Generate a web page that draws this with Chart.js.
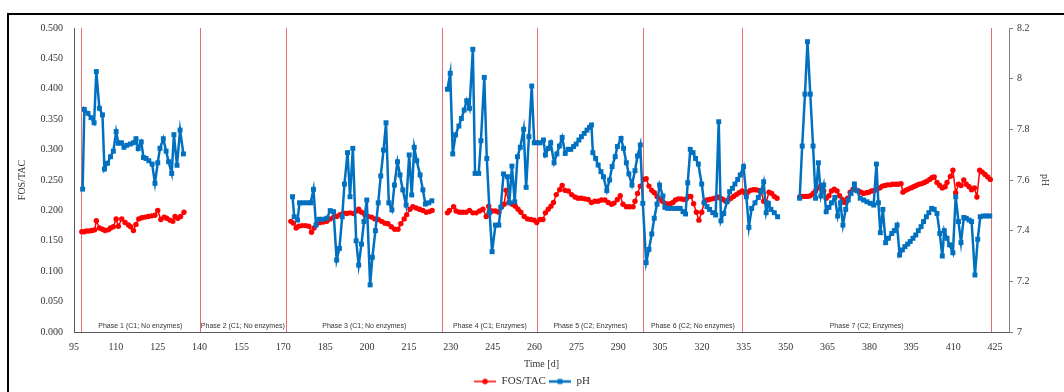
<!DOCTYPE html>
<html>
<head>
<meta charset="utf-8">
<script src="https://cdn.jsdelivr.net/npm/chart.js@4"></script>
<style>
  html, body { margin: 0; padding: 0; background: #fff; }
  #wrap { position: relative; width: 1064px; height: 392px; overflow: hidden; }
  #frame { position: absolute; left: 7px; top: 13px; width: 1100px; height: 400px;
           border-top: 2px solid #000; border-left: 2px solid #000; pointer-events: none; }
</style>
</head>
<body>
<div id="wrap">
  <canvas id="chart" width="1064" height="392"></canvas>
  <div id="frame"></div>
</div>
<script>
// FOS/TAC (left axis) - null marks a break between phases
const fosDays = [
    97.8, 98.6, 99.5, 100.5, 101.5, 102.4, 103.0, 104.1, 105.2, 106.1, 107.3, 108.1, 109.1, 110.1, 110.9,
    112.1, 113.3, 114.5, 115.3, 116.3, 117.2, 118.2, 119.3, 120.5, 121.6, 122.8, 124.0, 125.0, 126.1,
    127.3, 128.2, 129.4, 130.4, 131.2, 132.2, 133.2, 134.4,
    150,
    172.7, 173.6, 174.6, 175.5, 176.7, 177.9, 179.1, 180.1, 181.0, 182.0, 183.2, 184.4, 185.6, 186.8,
    188.0, 189.1, 190.3, 191.5, 192.7, 193.9, 195.1, 196.3, 197.0, 198.0, 199.2, 200.4, 201.6, 202.8,
    204.0, 205.2, 206.4, 207.5, 208.7, 209.9, 211.1, 212.1, 213.3, 214.2, 215.4, 216.4, 217.6, 218.8,
    220.0, 221.2, 222.4, 223.3,
    226,
    228.8, 229.5, 231.0, 231.9, 233.1, 234.3, 235.5, 236.7, 237.9, 239.1, 240.3, 241.5, 242.7, 243.6,
    244.8, 246.0, 247.2, 248.2, 249.1, 249.8, 250.8, 252.0, 253.1, 254.1, 255.1, 256.3, 257.5, 258.7,
    259.9, 260.8, 262.0, 263.0, 263.9, 264.9, 265.9, 266.8, 267.8, 269.0, 269.9, 270.9, 272.1, 273.3,
    274.5, 275.6, 276.8, 278.0, 279.2, 280.4, 281.6, 282.8, 284.0, 285.2, 286.4, 287.6, 288.5, 289.7,
    290.7, 291.7, 292.9, 294.0, 295.3, 296.0, 296.9, 297.9, 299.1, 300.0, 301.0, 302.0, 302.9, 303.9,
    304.8, 305.8, 306.7, 307.7, 308.6, 309.6, 310.5, 311.5, 312.5, 313.4, 314.4, 315.3, 316.0, 317.0,
    318.0, 318.9, 319.9, 320.8, 321.8, 322.7, 323.7, 324.6, 325.6, 326.6, 327.5, 328.5, 329.4, 330.4,
    331.3, 332.3, 333.3, 334.4, 335.4, 336.4, 337.3, 338.3, 339.2, 340.2, 341.1, 342.1, 343.0, 344.0,
    345.0, 345.9, 346.9,
    351,
    355.0, 355.9, 356.9, 357.8, 358.8, 359.8, 360.7, 361.7, 362.6, 363.6, 364.5, 365.5, 366.4, 367.4,
    368.4, 369.3, 370.3, 371.2, 372.2, 373.1, 374.1, 375.1, 376.0, 377.0, 377.9, 378.9, 379.8, 380.8,
    381.7, 382.7, 383.7, 384.6, 385.6, 386.5, 387.5, 388.4, 389.4, 390.3, 391.3, 392.0, 393.0, 393.9,
    394.9, 395.8, 396.8, 397.7, 398.7, 399.7, 400.6, 401.6, 402.5, 403.2, 404.2, 405.2, 406.1, 407.1,
    407.8, 409.0, 409.9, 410.9, 411.9, 412.8, 413.8, 414.7, 415.7, 416.6, 417.6, 418.5, 419.5, 420.4,
    421.4, 422.4, 423.3
];
const fosValues = [
    0.165, 0.165, 0.166, 0.166, 0.167, 0.168, 0.183, 0.171, 0.169, 0.167, 0.168, 0.171, 0.173, 0.186, 0.174,
    0.186, 0.180, 0.176, 0.173, 0.167, 0.177, 0.186, 0.188, 0.189, 0.190, 0.191, 0.192, 0.200, 0.185,
    0.189, 0.187, 0.184, 0.182, 0.190, 0.187, 0.190, 0.197,
    null,
    0.182, 0.179, 0.171, 0.174, 0.175, 0.175, 0.174, 0.164, 0.171, 0.178, 0.180, 0.181, 0.182, 0.186,
    0.189, 0.190, 0.193, 0.196, 0.195, 0.196, 0.195, 0.199, 0.202, 0.197, 0.193, 0.190, 0.189, 0.186,
    0.185, 0.182, 0.179, 0.178, 0.173, 0.169, 0.169, 0.178, 0.186, 0.193, 0.202, 0.206, 0.204, 0.202,
    0.200, 0.197, 0.198, 0.200,
    null,
    0.196, 0.200, 0.206, 0.199, 0.197, 0.197, 0.197, 0.200, 0.196, 0.196, 0.199, 0.202, 0.190, 0.207,
    0.199, 0.199, 0.197, 0.206, 0.210, 0.233, 0.213, 0.210, 0.207, 0.202, 0.197, 0.190, 0.186, 0.185,
    0.184, 0.180, 0.185, 0.185, 0.196, 0.202, 0.207, 0.213, 0.226, 0.234, 0.241, 0.233, 0.232, 0.226,
    0.222, 0.220, 0.220, 0.219, 0.218, 0.213, 0.215, 0.215, 0.217, 0.217, 0.213, 0.210, 0.212, 0.218,
    0.224, 0.210, 0.206, 0.206, 0.206, 0.215, 0.228, 0.240, 0.251, 0.252, 0.240, 0.233, 0.229, 0.223,
    0.219, 0.215, 0.212, 0.210, 0.211, 0.213, 0.217, 0.219, 0.219, 0.218, 0.219, 0.223, 0.223, 0.211,
    0.197, 0.184, 0.197, 0.213, 0.217, 0.218, 0.219, 0.220, 0.222, 0.220, 0.218, 0.215, 0.217, 0.220,
    0.223, 0.226, 0.229, 0.232, 0.229, 0.230, 0.233, 0.234, 0.234, 0.233, 0.232, 0.215, 0.213, 0.230,
    0.228, 0.223, 0.220,
    null,
    0.222, 0.223, 0.223, 0.223, 0.224, 0.228, 0.232, 0.237, 0.241, 0.232, 0.220, 0.224, 0.232, 0.235,
    0.232, 0.224, 0.218, 0.213, 0.220, 0.230, 0.235, 0.234, 0.232, 0.230, 0.228, 0.229, 0.230, 0.232,
    0.233, 0.234, 0.237, 0.240, 0.241, 0.242, 0.242, 0.243, 0.243, 0.243, 0.244, 0.230, 0.233, 0.235,
    0.237, 0.239, 0.241, 0.243, 0.244, 0.246, 0.248, 0.251, 0.254, 0.255, 0.246, 0.241, 0.237, 0.239,
    0.246, 0.256, 0.266, 0.229, 0.243, 0.241, 0.250, 0.243, 0.239, 0.234, 0.237, 0.222, 0.266, 0.263,
    0.259, 0.255, 0.251
];

// pH (right axis)
const phDays = [
    98.1, 98.7, 100.0, 101.1, 102.2, 103.0, 104.1, 105.2, 105.9, 107.0, 108.1, 109.1, 110.1, 110.9,
    112.0, 112.9, 113.9, 115.2, 116.3, 117.2, 118.0, 119.1, 119.9, 120.8, 121.8, 123.0, 124.0, 125.0,
    125.8, 127.0, 128.0, 128.9, 130.0, 130.8, 131.9, 133.0, 134.2,
    150,
    173.3, 173.9, 175.1, 175.8, 177.2, 178.6, 179.8, 180.8, 181.7, 182.7, 184.1, 185.6, 186.8, 188.0,
    189.1, 190.1, 191.1, 191.9, 193.0, 193.9, 194.9, 196.1, 197.0, 198.0, 198.9, 199.9, 201.1, 201.9,
    203.0, 204.0, 204.9, 205.9, 206.8, 207.8, 208.9, 209.8, 210.9, 211.8, 212.8, 214.0, 215.1, 216.0,
    216.9, 217.8, 219.0, 220.0, 220.9, 222.1, 223.2,
    226,
    228.8, 229.8, 230.7, 231.7, 232.9, 233.8, 234.8, 235.7, 236.7, 237.9, 238.7, 240.0, 240.8, 242.0,
    242.9, 243.9, 244.8, 246.0, 247.2, 247.9, 248.9, 250.3, 251.0, 251.9, 252.9, 253.9, 254.9, 256.1,
    257.0, 258.0, 259.0, 259.9, 260.8, 262.0, 263.2, 263.9, 265.0, 265.8, 267.0, 268.0, 268.9, 269.9,
    271.0, 272.1, 273.0, 274.0, 274.9, 275.9, 276.8, 277.8, 278.8, 279.7, 280.4, 280.9, 281.9, 282.8,
    283.8, 284.7, 285.9, 286.9, 287.8, 288.9, 289.7, 291.0, 291.9, 292.9, 293.8, 294.9, 296.0, 296.9,
    297.9, 298.8, 300.0, 301.0, 302.0, 302.9, 303.9, 304.8, 306.0, 306.7, 307.7, 308.9, 310.1, 311.3,
    312.2, 313.2, 314.1, 314.9, 315.8, 316.8, 317.7, 318.7, 319.9, 320.8, 321.8, 322.7, 323.9, 324.9,
    326.0, 326.8, 327.8, 329.0, 329.9, 330.9, 331.8, 332.8, 333.7, 334.9, 335.9, 336.8, 337.8, 339.0,
    340.2, 341.1, 342.1, 343.0, 343.8, 344.7, 345.9, 347.1,
    351,
    355.0, 355.9, 356.9, 357.8, 358.8, 359.8, 360.7, 361.7, 362.6, 363.6, 364.5, 365.5, 366.4, 367.6,
    368.6, 369.6, 370.5, 371.5, 372.4, 373.4, 374.6, 375.5, 376.7, 377.9, 379.1, 380.3, 381.5, 382.5,
    383.2, 383.9, 384.8, 385.8, 386.8, 388.0, 388.9, 389.9, 390.8, 391.8, 392.7, 393.7, 394.6, 395.6,
    396.6, 397.5, 398.5, 399.4, 400.4, 401.3, 402.3, 403.2, 404.2, 405.2, 406.1, 406.8, 407.8, 408.7,
    409.9, 410.9, 411.9, 412.8, 413.8, 414.7, 415.7, 416.6, 417.8, 418.8, 419.7, 420.9, 422.1, 423.1
];
const phValues = [
    7.564, 7.879, 7.863, 7.846, 7.826, 8.028, 7.883, 7.857, 7.643, 7.666, 7.692, 7.714, 7.791, 7.745,
    7.747, 7.729, 7.737, 7.742, 7.747, 7.763, 7.724, 7.750, 7.689, 7.685, 7.676, 7.663, 7.587, 7.668,
    7.725, 7.763, 7.714, 7.672, 7.626, 7.779, 7.658, 7.797, 7.703,
    null,
    7.534, 7.455, 7.442, 7.510, 7.510, 7.510, 7.510, 7.563, 7.422, 7.445, 7.445, 7.449, 7.479, 7.475,
    7.284, 7.330, 7.455, 7.584, 7.708, 7.534, 7.725, 7.360, 7.264, 7.347, 7.436, 7.521, 7.186, 7.295,
    7.400, 7.510, 7.616, 7.718, 7.826, 7.510, 7.482, 7.580, 7.672, 7.620, 7.561, 7.501, 7.699, 7.541,
    7.729, 7.676, 7.620, 7.561, 7.505, 7.510, 7.518,
    null,
    7.958, 8.021, 7.703, 7.778, 7.813, 7.843, 7.876, 7.913, 7.883, 8.116, 7.626, 7.626, 7.755, 8.005,
    7.685, 7.471, 7.317, 7.422, 7.422, 7.492, 7.624, 7.613, 7.510, 7.655, 7.514, 7.692, 7.729, 7.800,
    7.571, 7.771, 7.971, 7.747, 7.747, 7.747, 7.758, 7.699, 7.725, 7.747, 7.668, 7.703, 7.734, 7.768,
    7.705, 7.721, 7.721, 7.732, 7.742, 7.758, 7.771, 7.784, 7.797, 7.808, 7.817, 7.708, 7.685, 7.659,
    7.633, 7.613, 7.558, 7.600, 7.653, 7.692, 7.732, 7.764, 7.725, 7.668, 7.624, 7.580, 7.637, 7.695,
    7.738, 7.508, 7.274, 7.326, 7.387, 7.449, 7.505, 7.580, 7.537, 7.492, 7.488, 7.488, 7.488, 7.488,
    7.488, 7.475, 7.466, 7.589, 7.721, 7.708, 7.685, 7.663, 7.584, 7.510, 7.495, 7.484, 7.471, 7.462,
    7.830, 7.439, 7.468, 7.514, 7.554, 7.567, 7.584, 7.602, 7.620, 7.653, 7.534, 7.413, 7.488, 7.510,
    7.531, 7.554, 7.593, 7.471, 7.508, 7.484, 7.471, 7.455,
    null,
    7.528, 7.734, 7.939, 8.146, 7.939, 7.734, 7.528, 7.668, 7.537, 7.580, 7.475, 7.492, 7.510, 7.531,
    7.458, 7.510, 7.422, 7.484, 7.521, 7.547, 7.584, 7.558, 7.528, 7.521, 7.514, 7.508, 7.501, 7.663,
    7.510, 7.392, 7.484, 7.353, 7.370, 7.389, 7.400, 7.422, 7.304, 7.324, 7.337, 7.347, 7.357, 7.370,
    7.383, 7.400, 7.416, 7.436, 7.455, 7.471, 7.488, 7.484, 7.468, 7.389, 7.300, 7.400, 7.370, 7.344,
    7.313, 7.534, 7.436, 7.353, 7.452, 7.449, 7.442, 7.436, 7.225, 7.366, 7.455, 7.458, 7.458, 7.458
];

const xTicks = [95, 110, 125, 140, 155, 170, 185, 200, 215, 230, 245, 260, 275, 290, 305, 320, 335, 350, 365, 380, 395, 410, 425];
const fosTicks = [0, 0.05, 0.1, 0.15, 0.2, 0.25, 0.3, 0.35, 0.4, 0.45, 0.5];
const phTicks = [7, 7.2, 7.4, 7.6, 7.8, 8, 8.2];

const phaseBounds = [97.5, 140, 171, 227, 261, 299, 334.5, 423.5];
const phaseLabels = [
    'Phase 1 (C1; No enzymes)', 'Phase 2 (C1; No enzymes)', 'Phase 3 (C1; No enzymes)',
    'Phase 4 (C1; Enzymes)', 'Phase 5 (C2; Enzymes)', 'Phase 6 (C2; No enzymes)', 'Phase 7 (C2; Enzymes)'
];

const RED = '#FF0000';
const BLUE = '#0070C0';
const TEXT = '#333333';
const SERIF = '"Liberation Serif", "DejaVu Serif", serif';

function toPoints(xs, ys) {
    return xs.map((x, i) => ({ x: x, y: ys[i] }));
}

// small line+marker pictures for the legend
function legendIcon(color, square) {
    const c = document.createElement('canvas');
    c.width = 22; c.height = 8;
    const g = c.getContext('2d');
    g.strokeStyle = color;
    g.lineWidth = square ? 2.5 : 1.5;
    g.beginPath(); g.moveTo(0, 4); g.lineTo(22, 4); g.stroke();
    g.fillStyle = color;
    if (square) {
        g.fillRect(8.5, 1.5, 5, 5);
    } else {
        g.beginPath(); g.arc(11, 4, 2.8, 0, Math.PI * 2); g.fill();
    }
    return c;
}
const legendIcons = [legendIcon(RED, false), legendIcon(BLUE, true)];

const phasePlugin = {
    id: 'phases',
    beforeDatasetsDraw(chart) {
        const { ctx, chartArea, scales } = chart;
        const x = scales.x;
        ctx.save();
        ctx.strokeStyle = '#E86E6E';
        ctx.lineWidth = 1;
        phaseBounds.forEach(d => {
            const px = Math.round(x.getPixelForValue(d)) + 0.5;
            ctx.beginPath();
            ctx.moveTo(px, chartArea.top);
            ctx.lineTo(px, chartArea.bottom);
            ctx.stroke();
        });
        ctx.fillStyle = TEXT;
        ctx.font = '7px "Liberation Sans", Arial, sans-serif';
        ctx.textAlign = 'center';
        ctx.textBaseline = 'middle';
        phaseLabels.forEach((t, i) => {
            const cx = x.getPixelForValue((phaseBounds[i] + phaseBounds[i + 1]) / 2);
            ctx.fillText(t, cx, chartArea.bottom - 6);
        });
        ctx.restore();
    }
};

const ctx = document.getElementById('chart').getContext('2d');
new Chart(ctx, {
    type: 'line',
    data: {
        datasets: [{
            label: 'FOS/TAC',
            data: toPoints(fosDays, fosValues),
            yAxisID: 'y',
            borderColor: RED,
            backgroundColor: RED,
            borderWidth: 1.5,
            pointStyle: 'circle',
            pointRadius: 2.7,
            pointBorderWidth: 0,
            spanGaps: false,
            order: 1
        }, {
            label: 'pH',
            data: toPoints(phDays, phValues),
            yAxisID: 'y1',
            borderColor: BLUE,
            backgroundColor: BLUE,
            borderWidth: 2.5,
            pointStyle: 'rect',
            pointRadius: 3.5,
            pointBorderWidth: 0,
            spanGaps: false,
            order: 0
        }]
    },
    options: {
        responsive: false,
        animation: false,
        devicePixelRatio: 1,
        layout: { padding: { left: 10, right: 10, top: 28, bottom: -5 } },
        font: { family: SERIF },
        scales: {
            x: {
                type: 'linear',
                min: 95,
                max: 430,
                afterBuildTicks: s => { s.ticks = xTicks.map(v => ({ value: v })); },
                afterFit: s => { s.height = 41; },
                grid: { display: false, drawTicks: false },
                border: { display: true, color: '#595959', width: 1 },
                ticks: {
                    autoSkip: false, maxRotation: 0, padding: 9,
                    color: TEXT, font: { family: SERIF, size: 10 },
                    callback: v => String(v)
                },
                title: {
                    display: true, text: 'Time [d]', color: TEXT,
                    font: { family: SERIF, size: 10 }, padding: { top: 0, bottom: 3 }
                }
            },
            y: {
                position: 'left',
                min: 0,
                max: 0.5,
                afterBuildTicks: s => { s.ticks = fosTicks.map(v => ({ value: v })); },
                afterFit: s => { s.width = 64; },
                grid: { display: false, drawTicks: false },
                border: { display: true, color: '#595959', width: 1 },
                ticks: {
                    padding: 11, color: TEXT, font: { family: SERIF, size: 10 },
                    callback: v => v.toFixed(3)
                },
                title: {
                    display: true, text: 'FOS/TAC', color: TEXT,
                    font: { family: SERIF, size: 10 }, padding: { top: 6, bottom: 0 }
                }
            },
            y1: {
                position: 'right',
                min: 7,
                max: 8.2,
                afterBuildTicks: s => { s.ticks = phTicks.map(v => ({ value: v })); },
                afterFit: s => { s.width = 45; },
                grid: { display: true, drawOnChartArea: false, drawTicks: true, tickLength: 4, color: '#7F7F7F' },
                border: { display: true, color: '#7F7F7F', width: 1 },
                ticks: {
                    padding: 4, color: TEXT, font: { family: SERIF, size: 10 },
                    callback: v => String(Math.round(v * 10) / 10)
                },
                title: {
                    display: true, text: 'pH', color: TEXT,
                    font: { family: SERIF, size: 10 }, padding: { top: 3, bottom: 0 }
                }
            }
        },
        plugins: {
            legend: {
                position: 'bottom',
                labels: {
                    usePointStyle: true,
                    pointStyleWidth: 22,
                    padding: 3,
                    color: TEXT,
                    font: { family: SERIF, size: 11 },
                    sort: (a, b) => a.datasetIndex - b.datasetIndex,
                    generateLabels: chart => {
                        const items = Chart.defaults.plugins.legend.labels.generateLabels(chart);
                        items.forEach(it => { it.pointStyle = legendIcons[it.datasetIndex]; });
                        return items;
                    }
                }
            },
            tooltip: { enabled: false }
        }
    },
    plugins: [phasePlugin]
});
</script>
</body>
</html>
